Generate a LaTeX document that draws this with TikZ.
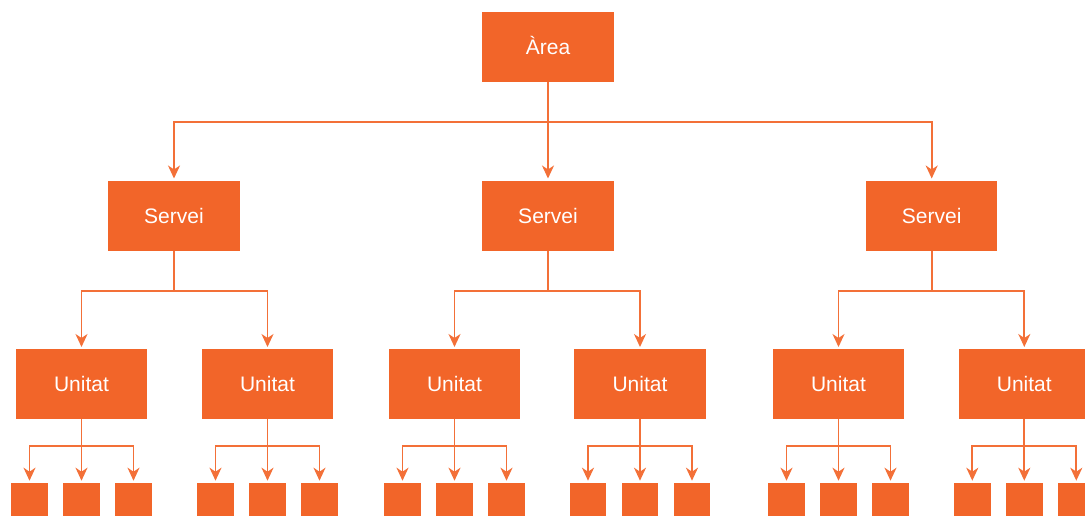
\documentclass[tikz,border=0pt]{standalone}
\usepackage{fontspec}
\setmainfont{Liberation Sans}
\usetikzlibrary{arrows.meta}
\definecolor{orgfill}{HTML}{F26529}
\definecolor{orgline}{HTML}{F37038}
\tikzset{
  box/.style={fill=orgfill, draw=none, text=white, inner sep=0pt,
    font=\fontsize{21}{24}\selectfont, text height=15.2pt, text depth=0pt,
    minimum width=131.5pt, minimum height=70pt},
  leaf/.style={fill=orgfill, draw=none, inner sep=0pt,
    minimum width=36.5pt, minimum height=36.5pt, anchor=north},
  conn/.style={draw=orgline, line width=1.7pt,
    -{Stealth[length=13pt,width=12pt,inset=4pt]}, shorten >=2pt}
}
\begin{document}
\begin{tikzpicture}[x=1pt, y=-1pt]
  \useasboundingbox (0,0) rectangle (1085,515);
  \clip (0,0) rectangle (1085,515);

  % horizontal bus levels
  \coordinate (busA) at (0,121.7);
  \coordinate (busB) at (0,290.8);
  \coordinate (busC) at (0,445.8);

  % top level
  \node[box] (area) at (548,47) {Àrea};

  % services
  \foreach \x [count=\s] in {174,548,931.7} {
    \node[box] (s\s) at (\x,215.7) {Servei};
    \draw[conn] (area.south) |- (s\s.north |- busA) -- (s\s.north);
  }

  % units with their leaf boxes
  \foreach \x/\p [count=\i] in {81.5/1,267.5/1,454.5/2,640/2,838.5/3,1024.3/3} {
    \node[box] (u\i) at (\x,384.2) {Unitat};
    \draw[conn] (s\p.south) |- (u\i.north |- busB) -- (u\i.north);
    \foreach \d [count=\j] in {-52,0,52} {
      \node[leaf] (l\i\j) at (\x+\d,482.7) {};
      \draw[conn] (u\i.south) |- (l\i\j.north |- busC) -- (l\i\j.north);
    }
  }
\end{tikzpicture}
\end{document}
